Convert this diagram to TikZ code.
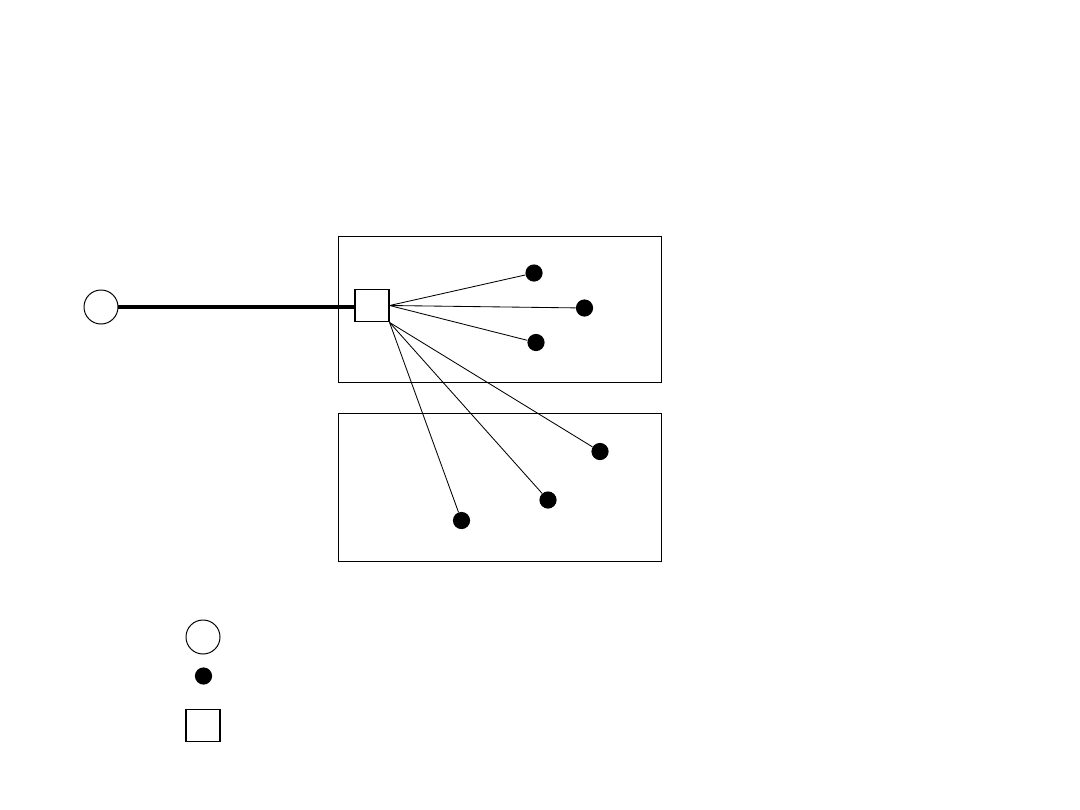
\documentclass[tikz,border=0pt]{standalone}
\usepackage{tikz}
\usetikzlibrary{positioning}

\begin{document}
\begin{tikzpicture}[
    x=0.025cm, y=-0.025cm,
    zone/.style={rectangle, draw, line width=0.7pt, inner sep=0pt, minimum width=8.05cm},
    hub/.style={rectangle, draw, line width=0.8pt, inner sep=0pt, minimum width=0.85cm, minimum height=0.82cm},
    src/.style={circle, draw, line width=0.7pt, inner sep=0pt, minimum size=0.85cm},
    leaf/.style={circle, fill=black, inner sep=0pt, minimum size=0.43cm},
    trunk/.style={line width=2.2pt},
    wire/.style={line width=0.6pt},
]
    \useasboundingbox (0,0) rectangle (1080,810);

    % Zones
    \node[zone, minimum height=3.625cm] (upper) at (500,309.5) {};
    \node[zone, minimum height=3.675cm] (lower) at (500,487.5) {};
    \draw[line width=1.4pt] (lower.north west) -- (lower.north east);

    % Source and hub
    \node[src] (source) at (101,307) {};
    \node[hub] (hub) at (372,305.5) {};

    % Leaves in the upper zone
    \node[leaf] (a1) at (534,273) {};
    \node[leaf] (a2) at (584.5,308) {};
    \node[leaf] (a3) at (536,342.5) {};

    % Leaves in the lower zone
    \node[leaf] (b1) at (600,451.5) {};
    \node[leaf] (b2) at (548,500) {};
    \node[leaf] (b3) at (461.5,520.5) {};

    % --- Connections ---
    \draw[trunk] (source.east) -- (source.east -| hub.west);
    \draw[wire] (hub.east) -- (a1);
    \draw[wire] (hub.east) -- (a2);
    \draw[wire] (hub.east) -- (a3);
    \draw[wire] (hub.south east) -- (b1);
    \draw[wire] (hub.south east) -- (b2);
    \draw[wire] (hub.south east) -- (b3);

    % Legend
    \node[src] (keysrc) at (203,637) {};
    \node[leaf] (keyleaf) at (203.5,676) {};
    \node[hub, minimum height=0.8cm] (keyhub) at (203,725.5) {};

\end{tikzpicture}
\end{document}
